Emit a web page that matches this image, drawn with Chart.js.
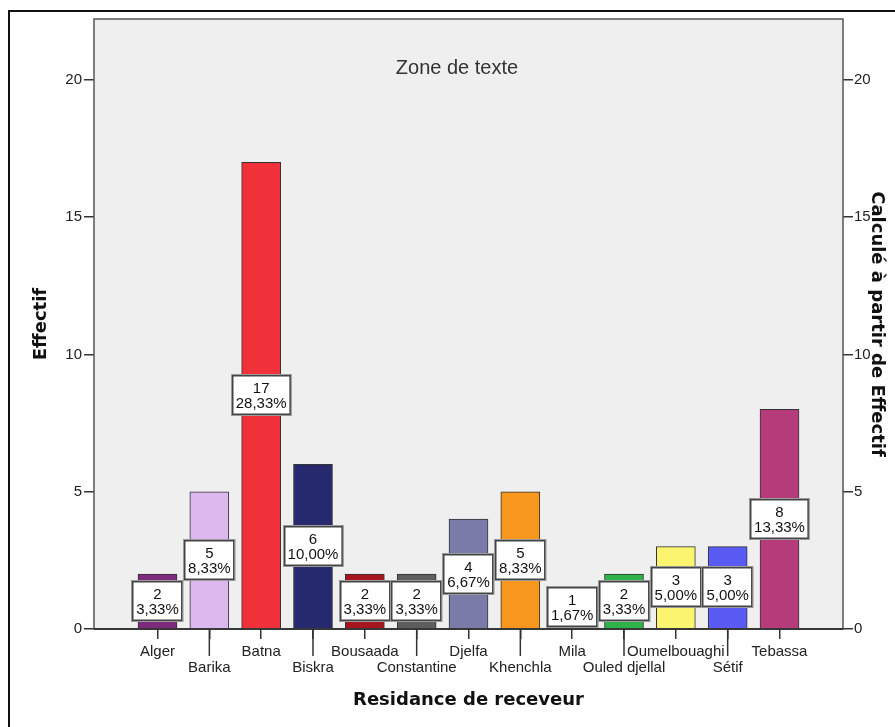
<!DOCTYPE html>
<html><head><meta charset="utf-8">
<script src="https://cdn.jsdelivr.net/npm/chart.js@4"></script>
<style>html,body{margin:0;padding:0;background:#fff;overflow:hidden}#wrap{position:relative;width:895px;height:727px}</style>
</head><body><div id="wrap"><canvas id="c"></canvas></div>
<script>
const categories = ['Alger','Barika','Batna','Biskra','Bousaada','Constantine','Djelfa','Khenchla','Mila','Ouled djellal','Oumelbouaghi','Sétif','Tebassa'];
const counts = [2,5,17,6,2,2,4,5,1,2,3,3,8];
const percentLabels = ['3,33%','8,33%','28,33%','10,00%','3,33%','3,33%','6,67%','8,33%','1,67%','3,33%','5,00%','5,00%','13,33%'];
const barColors = ['#7d2a7f','#dcb8ee','#f0313a','#27296f','#a7161f','#5e5e5e','#7b7ba9','#f7971e','#5fc6c2','#2eb34a','#faf46f','#5a5af5','#b63b7b'];
const yTicks = [0,5,10,15,20];
const annotationText = 'Zone de texte';

const SANS = '"Liberation Sans", Arial, sans-serif';
Chart.defaults.font.family = SANS;

const deco = {
  id: 'deco',
  beforeDraw(chart) {
    const {ctx, chartArea: a} = chart;
    ctx.save();
    ctx.fillStyle = '#efefef';
    ctx.fillRect(a.left, a.top, a.right - a.left, a.bottom - a.top);
    ctx.fillStyle = '#333';
    ctx.font = '20px ' + SANS;
    ctx.textAlign = 'center';
    ctx.textBaseline = 'middle';
    ctx.fillText(annotationText, 457, 68);
    ctx.restore();
  },
  afterDatasetsDraw(chart) {
    const {ctx, chartArea: a} = chart;
    const xs = chart.scales.x;
    ctx.save();
    // outer frame
    ctx.strokeStyle = '#111';
    ctx.lineWidth = 2;
    ctx.beginPath();
    ctx.moveTo(9, 727); ctx.lineTo(9, 11); ctx.lineTo(895, 11);
    ctx.stroke();
    // plot frame
    ctx.strokeStyle = '#555';
    ctx.lineWidth = 1.5;
    ctx.strokeRect(a.left, a.top, a.right - a.left, a.bottom - a.top);
    ctx.strokeStyle = '#222';
    ctx.beginPath(); ctx.moveTo(a.left, a.bottom); ctx.lineTo(a.right, a.bottom); ctx.stroke();
    // long ticks for staggered labels
    ctx.strokeStyle = '#333';
    ctx.lineWidth = 1.5;
    categories.forEach((c, i) => {
      if (i % 2 === 1) {
        const px = xs.getPixelForValue(i);
        ctx.beginPath(); ctx.moveTo(px, a.bottom); ctx.lineTo(px, a.bottom + 27); ctx.stroke();
      }
    });
    // data labels
    const meta = chart.getDatasetMeta(0);
    ctx.font = '15px ' + SANS;
    meta.data.forEach((el, i) => {
      const l1 = String(counts[i]), l2 = percentLabels[i];
      const w = Math.max(ctx.measureText(l1).width, ctx.measureText(l2).width) + 8;
      const h = 40;
      let top = (el.y + el.base) / 2 - h / 2;
      if (top + h > el.base - 1) top = el.base - 1 - h;
      const left = Math.round(el.x - w / 2);
      top = Math.round(top);
      ctx.fillStyle = '#fff';
      ctx.fillRect(left, top, w, h);
      ctx.strokeStyle = '#9a9a9a';
      ctx.lineWidth = 1;
      ctx.strokeRect(left - 0.5, top - 0.5, w + 1, h + 1);
      ctx.strokeStyle = '#444';
      ctx.lineWidth = 1.5;
      ctx.strokeRect(left + 0.75, top + 0.75, w - 1.5, h - 1.5);
      ctx.fillStyle = '#111';
      ctx.textAlign = 'center';
      ctx.textBaseline = 'middle';
      ctx.fillText(l1, el.x, top + 14);
      ctx.fillText(l2, el.x, top + 29);
    });
    ctx.restore();
  }
};

const yCommon = {
  min: 0, max: 22.22,
  afterBuildTicks: s => { s.ticks = yTicks.map(v => ({value: v})); },
  grid: {drawOnChartArea: false, tickLength: 10, color: '#333', lineWidth: 1.5},
  border: {display: false},
  ticks: {font: {size: 15}, color: '#222', padding: 2}
};

new Chart(document.getElementById('c'), {
  type: 'bar',
  data: {
    datasets: [{
      data: counts.map((v, i) => ({x: i, y: v})),
      backgroundColor: barColors,
      borderColor: '#333',
      borderWidth: 1,
      barThickness: 39,
      yAxisID: 'y'
    }]
  },
  options: {
    responsive: true,
    maintainAspectRatio: false,
    animation: false,
    layout: {padding: {top: 19, left: 0, right: 0, bottom: 0}},
    plugins: {legend: {display: false}, tooltip: {enabled: false}},
    scales: {
      x: {
        type: 'linear',
        min: -1.225, max: 13.225,
        offset: false,
        afterBuildTicks: s => { s.ticks = categories.map((c, i) => ({value: i})); },
        afterFit: s => { s.height = 98; },
        grid: {offset: false, drawOnChartArea: false, tickLength: 10, color: '#333', lineWidth: 1.5},
        border: {display: false},
        ticks: {
          autoSkip: false, maxRotation: 0, minRotation: 0,
          font: {size: 15, lineHeight: '16px'}, color: '#222', padding: 5,
          callback: v => (v % 2 === 1 ? ['', categories[v]] : categories[v])
        },
        title: {display: true, text: 'Residance de receveur', color: '#111',
          font: {family: 'DejaVu Sans', size: 18, weight: 'bold'}, padding: {top: 0, bottom: 16}}
      },
      y: Object.assign({}, yCommon, {
        position: 'left',
        afterFit: s => { s.width = 94; },
        title: {display: true, text: 'Effectif', color: '#111',
          font: {family: 'DejaVu Sans', size: 18, weight: 'bold'}, padding: {top: 31, bottom: 0}}
      }),
      y2: Object.assign({}, yCommon, {
        position: 'right',
        afterFit: s => { s.width = 52; },
        ticks: {font: {size: 15}, color: '#222', padding: 1},
        title: {display: true, text: 'Calculé à partir de Effectif', color: '#111',
          font: {family: 'DejaVu Sans', size: 18, weight: 'bold'}, padding: {top: 8, bottom: 0}}
      })
    }
  },
  plugins: [deco]
});
</script>
</body></html>
